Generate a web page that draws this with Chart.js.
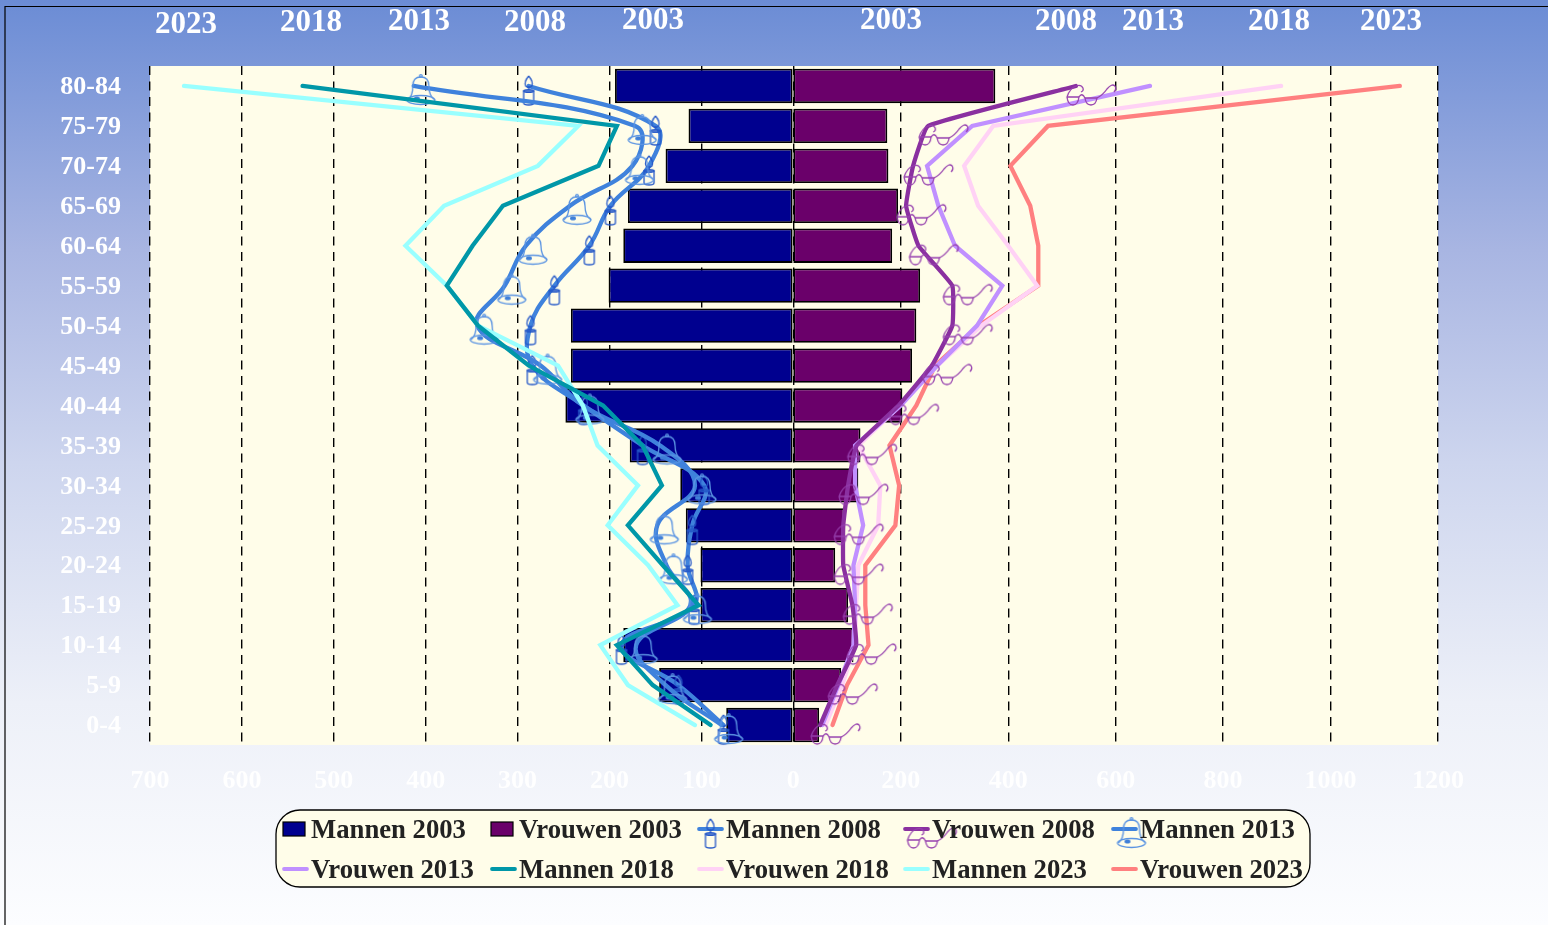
<!DOCTYPE html>
<html><head><meta charset="utf-8">
<style>html,body{margin:0;padding:0;width:1548px;height:925px;overflow:hidden;background:linear-gradient(180deg,#6b8cd5 0%,#a8b5e2 27%,#cdd5ee 50%,#edf0f8 76%,#fcfdff 100%)}canvas{display:block}</style>
<script src="https://cdn.jsdelivr.net/npm/chart.js@4/dist/chart.umd.min.js"></script>
</head><body><canvas id="c" width="1548" height="925"></canvas>
<script>
const ageGroups=['80-84','75-79','70-74','65-69','60-64','55-59','50-54','45-49','40-44','35-39','30-34','25-29','20-24','15-19','10-14','5-9','0-4'];
const mannen2003=[194,114,139,180,185,201,242,242,248,178,123,117,101,101,185,146,73];
const vrouwen2003=[376,175,177,195,184,236,229,221,203,125,121,95,78,102,112,89,48];
const mannen2008=[288,150,157,199,222,260,286,284,228,164,97,110,115,108,187,125,76];
const vrouwen2008=[526,251,223,210,233,296,296,258,196,118,102,93,93,110,117,82,50];
const mannen2013=[413,172,175,243,291,314,344,275,229,145,107,148,138,112,171,139,78];
const vrouwen2013=[664,333,249,270,301,389,342,268,200,115,115,130,112,115,112,84,54];
const mannen2018=[534,192,212,316,349,377,343,288,207,164,143,180,142,103,192,153,90];
const vrouwen2018=[908,372,318,344,400,454,350,268,199,121,162,158,121,117,115,91,60];
const mannen2023=[663,234,278,380,422,377,343,256,229,213,169,202,158,126,210,180,107];
const vrouwen2023=[1129,474,404,441,456,456,345,264,229,179,197,190,134,134,140,100,73];
const ticksLeft=[700,600,500,400,300,200,100,0];
const ticksRight=[200,400,600,800,1000,1200];
const yearLabels=['2023','2018','2013','2008','2003','2003','2008','2013','2018','2023'];

const SERIF='"Liberation Serif","Times New Roman",serif';
function sprite(draw){
  const c=document.createElement('canvas');c.width=120;c.height=80;
  const x=c.getContext('2d');x.translate(60,40);x.lineWidth=1.3;draw(x);return c;
}
const candle=sprite(x=>{
  x.strokeStyle='#2558c8';x.beginPath();
  x.moveTo(-5,5);x.lineTo(-5,17);x.quadraticCurveTo(-5,19,0,19);x.quadraticCurveTo(5,19,5,17);x.lineTo(5,5);
  x.closePath();x.stroke();
  x.beginPath();x.ellipse(0,5,5,1.4,0,0,7);x.stroke();
  x.beginPath();x.moveTo(0,-10);x.quadraticCurveTo(-5,-4,-3,0);x.quadraticCurveTo(0,3,3,0);x.quadraticCurveTo(5,-4,0,-10);x.stroke();
  x.beginPath();x.moveTo(0,0);x.lineTo(0,4);x.stroke();
});
const bell=sprite(x=>{
  x.strokeStyle='#5b94e2';x.fillStyle='#3f7fd8';x.save();x.translate(7,0);
  x.beginPath();x.arc(0,-10,1.3,0,7);x.stroke();
  x.beginPath();x.moveTo(-13,14);x.quadraticCurveTo(-8,10,-8,0);x.quadraticCurveTo(-8,-9,0,-9);x.quadraticCurveTo(8,-9,8,0);x.quadraticCurveTo(8,10,14,14);x.stroke();
  x.beginPath();x.ellipse(0,14,14,4.5,0,0,7);x.stroke();
  x.beginPath();x.ellipse(-4,12.5,3,2,0,0,7);x.fill();
  x.restore();
});
const glasses=sprite(x=>{
  x.strokeStyle='#9640ae';
  x.beginPath();x.moveTo(-9,11);x.lineTo(3,11);x.quadraticCurveTo(2,19,-3,19);x.quadraticCurveTo(-8,19,-9,11);x.stroke();
  x.beginPath();x.moveTo(9,12);x.lineTo(21,12);x.quadraticCurveTo(20,19,15,19);x.quadraticCurveTo(10,19,9,12);x.stroke();
  x.beginPath();x.moveTo(3,11);x.quadraticCurveTo(6,6,9,12);x.stroke();
  x.beginPath();x.moveTo(-9,11);x.quadraticCurveTo(-6,2,0,0);x.quadraticCurveTo(5,-2,7,2);x.quadraticCurveTo(8,5,5,6);x.stroke();
  x.beginPath();x.moveTo(21,12);x.quadraticCurveTo(27,9,31,3);x.quadraticCurveTo(36,-3,39,0);x.quadraticCurveTo(41,3,38,6);x.stroke();
});

function bar(label,data,color,axis){return {type:'bar',label,data,xAxisID:axis,grouped:false,backgroundColor:color,borderColor:'#000',borderWidth:1.8,borderSkipped:false,barPercentage:.86,categoryPercentage:1,order:10};}
function line(label,data,color,axis,order,tension,marker){return {type:'line',label,data,xAxisID:axis,borderColor:color,backgroundColor:color,borderWidth:4.3,tension,fill:false,order,borderCapStyle:'round',borderJoinStyle:'miter',pointStyle:marker||false,pointRadius:marker?10:0,pointHoverRadius:marker?10:0,marker:marker||null};}

const datasets=[
 bar('Mannen 2003',mannen2003,'#00008f','xL'),
 bar('Vrouwen 2003',vrouwen2003,'#6a006a','xR'),
 line('Mannen 2008',mannen2008,'#3f82dc','xL',4,.4,candle),
 line('Vrouwen 2008',vrouwen2008,'#8a30a0','xR',1,.1,glasses),
 line('Mannen 2013',mannen2013,'#3f82dc','xL',3,.4,bell),
 line('Vrouwen 2013',vrouwen2013,'#c090ff','xR',2,0),
 line('Mannen 2018',mannen2018,'#0097a8','xL',1,0),
 line('Vrouwen 2018',vrouwen2018,'#ffd2f5','xR',3,0),
 line('Mannen 2023',mannen2023,'#99ffff','xL',2,0),
 line('Vrouwen 2023',vrouwen2023,'#ff8080','xR',4,0)
];

const frame={id:'frame',beforeDraw(ch){
  const {ctx,chartArea:a}=ch;ctx.save();
  ctx.fillStyle='#fffde9';ctx.fillRect(a.left,a.top,a.right-a.left,a.bottom-a.top);
  ctx.strokeStyle='#000';ctx.lineWidth=1.2;ctx.beginPath();ctx.moveTo(5,925);ctx.lineTo(5,6.5);ctx.lineTo(1548,6.5);ctx.stroke();
  ctx.restore();
}};
const labelX=[186,311,419,535,653,891,1066,1153,1279,1391];
const labelY=[25,23,22,23,21,21,22,22,22,22];
const topLabels={id:'topLabels',afterDraw(ch){
  const c=ch.ctx;c.save();c.fillStyle='#fff';c.font='bold 31px '+SERIF;c.textAlign='center';c.textBaseline='middle';
  yearLabels.forEach((t,i)=>c.fillText(t,labelX[i],labelY[i]));c.restore();
}};
const legendBox={id:'legendBox',afterDraw(ch){
  const c=ch.ctx;c.save();
  c.beginPath();c.roundRect(276,810,1034,77,24);c.fillStyle='#fffde9';c.fill();c.strokeStyle='#000';c.lineWidth=1.3;c.stroke();
  const cols=[283,491,698,904,1112];const rows=[829,869];
  c.textBaseline='middle';c.textAlign='left';
  ch.data.datasets.forEach((d,i)=>{
    const x=cols[i%5],y=rows[Math.floor(i/5)];
    if(d.type==='bar'){c.fillStyle=d.backgroundColor;c.strokeStyle='#000';c.lineWidth=1.2;c.fillRect(x,y-7,22,14);c.strokeRect(x,y-7,22,14);}
    else{c.strokeStyle=d.borderColor;c.lineWidth=3.8;c.lineCap='round';c.beginPath();c.moveTo(x+1,y);c.lineTo(x+24,y);c.stroke();
      if(d.marker)c.drawImage(d.marker,x+12.5-60,y-40);}
    c.fillStyle='#222';c.font='bold 26.7px '+SERIF;c.fillText(d.label,x+28,y+2);
  });
  c.restore();
}};
function xAxis(min,max,reverse,vals,height){return {type:'linear',position:'bottom',min,max,reverse,
  afterBuildTicks(s){s.ticks=vals.map(value=>({value}));},
  afterFit(s){s.height=height;s.paddingLeft=0;s.paddingRight=0;s._computeLabelArea=()=>undefined;},
  grid:{color:'#000',lineWidth:1.4,drawTicks:false,drawOnChartArea:true},
  border:{display:false,dash:[9,6.5]},
  ticks:{color:'rgba(255,255,255,.95)',font:{family:SERIF,size:26,weight:'bold'},padding:21,autoSkip:false,maxRotation:0,minRotation:0,includeBounds:false,callback:v=>String(v)}};}

new Chart(document.getElementById('c'),{
  data:{labels:ageGroups,datasets},
  plugins:[frame,topLabels,legendBox],
  options:{indexAxis:'y',responsive:false,animation:false,devicePixelRatio:1,
    layout:{padding:{top:66,right:110,bottom:120,left:0}},
    plugins:{legend:{display:false},tooltip:{enabled:false}},
    scales:{
      y:{type:'category',position:'left',offset:true,afterFit(s){s.width=150;},
         grid:{display:false},border:{display:false},
         ticks:{color:'#fff',font:{family:SERIF,size:26,weight:'bold'},padding:21,labelOffset:1.5,autoSkip:false}},
      xL:xAxis(-701.5,700,true,ticksLeft,0),
      xR:xAxis(-1197.4,1200,false,ticksRight,60)
    }}
});
</script></body></html>
